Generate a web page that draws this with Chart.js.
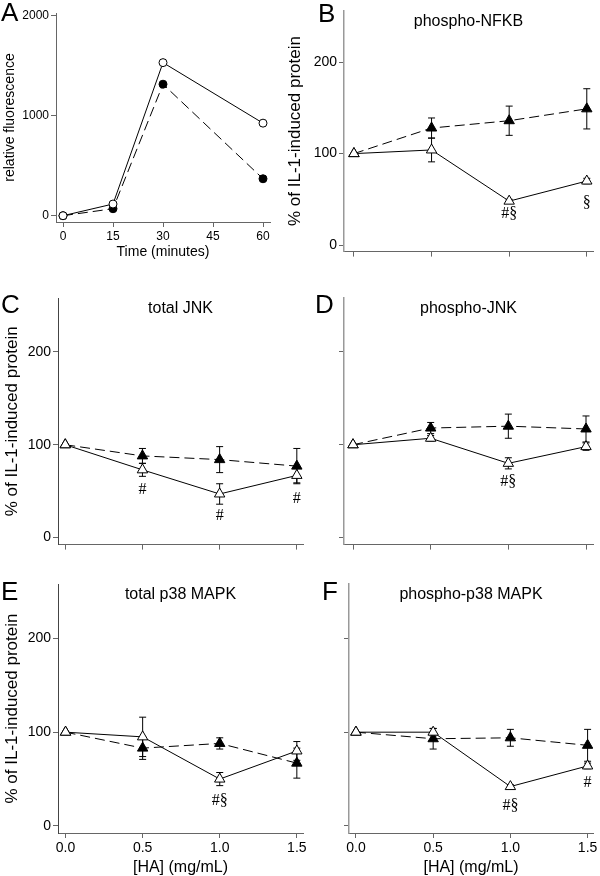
<!DOCTYPE html>
<html>
<head>
<meta charset="utf-8">
<script src="https://cdn.jsdelivr.net/npm/chart.js@4.4.1/dist/chart.umd.min.js"></script>
<style>
  body { margin: 0; background: #fff; }
  #wrap { position: relative; width: 600px; height: 876px; overflow: hidden; }
  #wrap canvas { position: absolute; }
</style>
</head>
<body>
<div id="wrap"></div>
<script>
// panel A data
const timeMinutes = [0, 15, 30, 60];
const timeTicks = [0, 15, 30, 45, 60];
const fluorTicks = [0, 1000, 2000];
const fluorOpen = [0, 117, 1533, 927];
const fluorFilled = [0, 70, 1317, 370];

// panels B-F share the HA doses
const haDoses = [0, 0.5, 1.0, 1.5];
const pctTicks = [0, 100, 200];

// B phospho-NFKB
const nfkbOpen = [100, 104, 48, 70];
const nfkbOpenErr = [0, 13, 2, 3];
const nfkbFilled = [100, 128, 136, 149];
const nfkbFilledErr = [0, 11, 16, 22];
const nfkbMarks = [{ x: 1.0, y: 34, text: '#§' }, { x: 1.5, y: 46, text: '§' }];

// C total JNK
const jnkOpen = [100, 73, 47, 67];
const jnkOpenErr = [0, 7, 11, 8];
const jnkFilled = [100, 88, 84, 77];
const jnkFilledErr = [0, 8, 14, 19];
const jnkMarks = [{ x: 0.5, y: 52, text: '#' }, { x: 1.0, y: 23, text: '#' }, { x: 1.5, y: 42, text: '#' }];

// D phospho-JNK
const pjnkOpen = [100, 107, 80, 98];
const pjnkOpenErr = [0, 3, 6, 4];
const pjnkFilled = [100, 118, 120, 117];
const pjnkFilledErr = [0, 6, 13, 14];
const pjnkMarks = [{ x: 1.0, y: 60, text: '#§' }];

// E total p38 MAPK
const p38Open = [100, 95, 50, 80];
const p38OpenErr = [0, 21, 7, 10];
const p38Filled = [100, 83, 88, 67];
const p38FilledErr = [0, 12, 6, 16];
const p38Marks = [{ x: 1.0, y: 27, text: '#§' }];

// F phospho-p38 MAPK
const pp38Open = [100, 100, 42, 64];
const pp38OpenErr = [0, 4, 2, 3];
const pp38Filled = [100, 93, 94, 86];
const pp38FilledErr = [0, 11, 9, 17];
const pp38Marks = [{ x: 1.0, y: 22, text: '#§' }, { x: 1.5, y: 46, text: '#' }];

const SANS = "'Liberation Sans', Arial, sans-serif";
const SERIF = "'Liberation Serif', 'Times New Roman', serif";
const AXIS = '#666';

// error bars are drawn under the markers
const errorBarPlugin = {
  id: 'errorBars',
  beforeDatasetsDraw(chart) {
    const ctx = chart.ctx, xs = chart.scales.x, ys = chart.scales.y;
    ctx.save();
    ctx.strokeStyle = '#000';
    ctx.lineWidth = 1;
    chart.data.datasets.forEach(ds => {
      if (!ds.errors) return;
      ds.data.forEach((p, i) => {
        const e = ds.errors[i];
        if (!e) return;
        const x = xs.getPixelForValue(p.x);
        const y1 = ys.getPixelForValue(p.y + e), y2 = ys.getPixelForValue(p.y - e);
        ctx.beginPath();
        ctx.moveTo(x, y1); ctx.lineTo(x, y2);
        ctx.moveTo(x - 3.5, y1); ctx.lineTo(x + 3.5, y1);
        ctx.moveTo(x - 3.5, y2); ctx.lineTo(x + 3.5, y2);
        ctx.stroke();
      });
    });
    ctx.restore();
  }
};

// panel letter, panel title and significance marks
const panelTextPlugin = {
  id: 'panelText',
  afterDraw(chart, args, opts) {
    const ctx = chart.ctx, area = chart.chartArea;
    ctx.save();
    ctx.fillStyle = '#000';
    if (opts.letter) {
      ctx.font = '26px ' + SANS;
      ctx.textAlign = 'left';
      ctx.textBaseline = 'alphabetic';
      ctx.fillText(opts.letter.text, opts.letter.x, opts.letter.y);
    }
    if (opts.title) {
      ctx.font = '16px ' + SANS;
      ctx.textAlign = 'center';
      ctx.textBaseline = 'middle';
      ctx.fillText(opts.title, (area.left + area.right) / 2, area.top + 11);
    }
    (opts.marks || []).forEach(m => {
      ctx.font = '16px ' + SERIF;
      ctx.textAlign = 'center';
      ctx.textBaseline = 'middle';
      ctx.fillText(m.text, chart.scales.x.getPixelForValue(m.x), chart.scales.y.getPixelForValue(m.y));
    });
    ctx.restore();
  }
};

const wrap = document.getElementById('wrap');

function pts(xs, ys) {
  return xs.map((x, i) => ({ x: x, y: ys[i] }));
}

function makePanel(p) {
  const cv = document.createElement('canvas');
  cv.width = p.box.w; cv.height = p.box.h;
  cv.style.left = p.box.x + 'px';
  cv.style.top = p.box.y + 'px';
  wrap.appendChild(cv);

  const area = p.area;
  const yWidth = area.left - p.box.x;
  const xHeight = p.box.y + p.box.h - area.bottom;
  const tickFont = { family: SANS, size: p.tickSize };

  new Chart(cv, {
    type: 'line',
    data: {
      datasets: [
        {
          label: 'open',
          data: pts(p.xValues, p.open),
          errors: p.openErr,
          borderColor: '#000', borderWidth: 1,
          pointStyle: p.marker, pointRadius: p.radius,
          pointBackgroundColor: '#fff', pointBorderColor: '#000', pointBorderWidth: 1
        },
        {
          label: 'filled',
          data: pts(p.xValues, p.filled),
          errors: p.filledErr,
          borderColor: '#000', borderWidth: 1, borderDash: [10, 5],
          pointStyle: p.marker, pointRadius: p.radius,
          pointBackgroundColor: '#000', pointBorderColor: '#000', pointBorderWidth: 1
        }
      ]
    },
    options: {
      responsive: false,
      animation: false,
      devicePixelRatio: 1,
      layout: { padding: { left: 0, bottom: 0, top: area.top - p.box.y, right: p.box.x + p.box.w - area.right } },
      plugins: {
        legend: { display: false },
        tooltip: { enabled: false },
        panelText: { letter: p.letter, title: p.title, marks: p.marks }
      },
      scales: {
        x: {
          type: 'linear',
          min: p.xMin, max: p.xMax,
          afterBuildTicks: s => { s.ticks = p.xTicks.map(v => ({ value: v })); },
          afterFit: s => { s.height = xHeight; },
          grid: { drawOnChartArea: false, drawTicks: true, tickLength: 5, color: AXIS },
          border: { display: true, color: AXIS, width: 1 },
          ticks: {
            color: '#000', font: tickFont, padding: 2, maxRotation: 0, autoSkip: false,
            callback: v => p.xLabels ? p.xFormat(v) : ''
          },
          title: {
            display: !!p.xTitle, text: p.xTitle || '', color: '#000',
            font: { family: SANS, size: p.titleSize, lineHeight: 1 }, padding: { top: 0, bottom: p.xTitlePad }
          }
        },
        y: {
          type: 'linear',
          min: p.yMin, max: p.yMax,
          afterBuildTicks: s => { s.ticks = p.yTicks.map(v => ({ value: v })); },
          afterFit: s => { s.width = yWidth; },
          grid: { drawOnChartArea: false, drawTicks: true, tickLength: 5, color: AXIS },
          border: { display: true, color: p.yAxisColor || AXIS, width: p.yAxisWidth || 1 },
          ticks: {
            color: '#000', font: tickFont, padding: 2,
            callback: v => p.yLabels ? String(v) : ''
          },
          title: {
            display: !!p.yTitle, text: p.yTitle || '', color: '#000',
            font: { family: SANS, size: p.yTitleSize, lineHeight: 1.2 }, padding: { top: 2, bottom: 0 }
          }
        }
      }
    },
    plugins: [errorBarPlugin, panelTextPlugin]
  });
}

const haCommon = {
  xValues: haDoses, xTicks: haDoses, yTicks: pctTicks,
  xFormat: v => v.toFixed(1),
  marker: 'triangle', radius: 6, tickSize: 14, titleSize: 16, yTitleSize: 17,
  yMin: -7.5, yMax: 258
};
const yLabelText = '% of IL-1-induced protein';

// A
makePanel({
  box: { x: 0, y: 0, w: 290, h: 262 },
  area: { left: 56, top: 13, right: 270, bottom: 222 },
  xValues: timeMinutes, xTicks: timeTicks, yTicks: fluorTicks,
  xFormat: v => String(v), xLabels: true, yLabels: true,
  open: fluorOpen, filled: fluorFilled,
  marker: 'circle', radius: 4, tickSize: 12, titleSize: 14, yTitleSize: 14,
  xMin: -2.1, xMax: 62.1, yMin: -63, yMax: 2030,
  xTitle: 'Time (minutes)', xTitlePad: 3, yTitle: 'relative fluorescence',
  letter: { text: 'A', x: 1, y: 21 }
});

// B
makePanel(Object.assign({}, haCommon, {
  box: { x: 283, y: 0, w: 317, h: 262 },
  area: { left: 344, top: 8, right: 595, bottom: 255 },
  open: nfkbOpen, openErr: nfkbOpenErr, filled: nfkbFilled, filledErr: nfkbFilledErr,
  xMin: -0.064, xMax: 1.54, yMin: -7.2, yMax: 256.7,
  yLabels: true, yTitle: yLabelText, yAxisColor: '#999', yAxisWidth: 1.5,
  title: 'phospho-NFKB', marks: nfkbMarks,
  letter: { text: 'B', x: 35, y: 22 }
}));

// C
makePanel(Object.assign({}, haCommon, {
  box: { x: 0, y: 285, w: 310, h: 270 },
  area: { left: 58, top: 298, right: 306, bottom: 547 },
  open: jnkOpen, openErr: jnkOpenErr, filled: jnkFilled, filledErr: jnkFilledErr,
  xMin: -0.047, xMax: 1.54,
  yLabels: true, yTitle: yLabelText, yAxisColor: '#444',
  title: 'total JNK', marks: jnkMarks,
  letter: { text: 'C', x: 1, y: 28 }
}));

// D
makePanel(Object.assign({}, haCommon, {
  box: { x: 300, y: 285, w: 300, h: 270 },
  area: { left: 344, top: 298, right: 595, bottom: 547 },
  open: pjnkOpen, openErr: pjnkOpenErr, filled: pjnkFilled, filledErr: pjnkFilledErr,
  xMin: -0.058, xMax: 1.545,
  yLabels: false, yAxisColor: '#999', yAxisWidth: 1.5,
  title: 'phospho-JNK', marks: pjnkMarks,
  letter: { text: 'D', x: 15, y: 28 }
}));

// E
makePanel(Object.assign({}, haCommon, {
  box: { x: 0, y: 570, w: 310, h: 306 },
  area: { left: 58, top: 584, right: 306, bottom: 833 },
  open: p38Open, openErr: p38OpenErr, filled: p38Filled, filledErr: p38FilledErr,
  xMin: -0.049, xMax: 1.54,
  xLabels: true, xTitle: '[HA] (mg/mL)', xTitlePad: 0,
  yLabels: true, yTitle: yLabelText, yAxisColor: '#444',
  title: 'total p38 MAPK', marks: p38Marks,
  letter: { text: 'E', x: 1, y: 30 }
}));

// F
makePanel(Object.assign({}, haCommon, {
  box: { x: 300, y: 570, w: 300, h: 306 },
  area: { left: 349, top: 584, right: 596, bottom: 833 },
  open: pp38Open, openErr: pp38OpenErr, filled: pp38Filled, filledErr: pp38FilledErr,
  xMin: -0.045, xMax: 1.535,
  xLabels: true, xTitle: '[HA] (mg/mL)', xTitlePad: 0,
  yLabels: false, yAxisColor: '#999', yAxisWidth: 1.5,
  title: 'phospho-p38 MAPK', marks: pp38Marks,
  letter: { text: 'F', x: 22, y: 30 }
}));
</script>
</body>
</html>
